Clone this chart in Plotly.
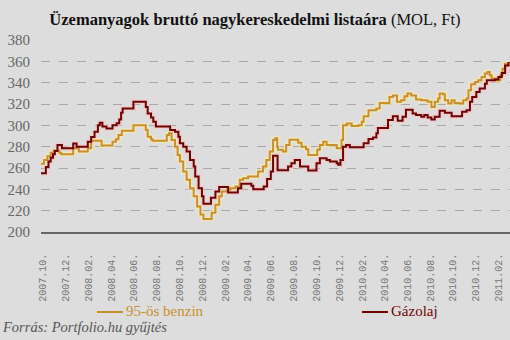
import plotly.graph_objects as go

benzin_dates = ["2007-09-26","2007-10-04","2007-10-13","2007-10-22","2007-10-30","2007-11-14","2007-11-19",
    "2007-12-21","2008-01-05","2008-01-29","2008-02-07","2008-03-06","2008-04-04","2008-04-13","2008-04-20",
    "2008-04-29","2008-05-30","2008-07-02","2008-07-07","2008-07-16","2008-07-20","2008-08-27","2008-09-02",
    "2008-09-09","2008-09-18","2008-09-25","2008-10-01","2008-10-10","2008-10-19","2008-10-28","2008-11-07",
    "2008-11-16","2008-11-25","2008-12-03","2008-12-25","2009-01-04","2009-01-14","2009-01-21","2009-02-04",
    "2009-02-13","2009-02-26","2009-03-10","2009-03-19","2009-04-01","2009-04-28","2009-05-11","2009-05-20",
    "2009-05-29","2009-06-07","2009-06-13","2009-06-18","2009-06-20","2009-07-03","2009-07-12","2009-07-21",
    "2009-08-13","2009-08-22","2009-09-03","2009-09-09","2009-10-03","2009-10-10","2009-10-19","2009-10-28",
    "2009-11-24","2009-12-07","2009-12-11","2009-12-21","2010-01-03","2010-01-21","2010-01-30","2010-02-04",
    "2010-02-17","2010-03-10","2010-03-19","2010-04-14","2010-04-23","2010-05-04","2010-05-15","2010-05-24",
    "2010-06-01","2010-06-11","2010-06-24","2010-07-08","2010-07-25","2010-08-04","2010-08-13","2010-08-22",
    "2010-08-26","2010-09-04","2010-09-09","2010-09-18","2010-09-27","2010-10-05","2010-10-19","2010-10-28",
    "2010-11-06","2010-11-11","2010-11-18","2010-11-29","2010-12-07","2010-12-16","2010-12-25","2011-01-01",
    "2011-01-07","2011-01-12","2011-01-25","2011-02-04","2011-02-10","2011-02-17","2011-02-26"]
benzin_values = [264,267.6,271,274.4,276.3,274.4,273,
    278.5,275.4,278.5,285.6,281,284.7,287,291,
    295,300,295.6,289.3,287,285.6,291,292.5,
    286.3,280,272.3,266,256.7,249,241,233.4,
    224,216.3,212.3,218,225.6,233.4,238,239.6,
    241,242.7,249,250.5,252,256.7,261.3,267.6,
    275.4,286.3,287.8,280,277,275.4,281.6,286.5,
    283.7,280,277.6,272.3,277,281.6,284.7,281.6,
    278.5,286.3,300,301.8,299.3,300,303.3,308.6,
    314.2,315.8,321,326.6,328,322,323.6,327.3,
    329.8,328,324.2,323.6,322,317.3,322,325.2,
    329.8,329.2,323.6,320.5,323.6,321,320.5,323.6,
    325.2,333,338.5,340.6,342.2,345.3,348.5,350,
    346.9,343.8,342.2,346.9,353,357.8,359.3]

gazolaj_dates = ["2007-09-26","2007-10-09","2007-10-16","2007-10-22","2007-10-28","2007-11-02","2007-11-09",
    "2007-11-21","2007-12-21","2007-12-30","2008-01-29","2008-02-07","2008-02-16","2008-02-25","2008-03-01",
    "2008-03-08","2008-03-19","2008-04-04","2008-04-15","2008-04-22","2008-04-27","2008-05-01","2008-05-30",
    "2008-07-02","2008-07-07","2008-07-16","2008-07-22","2008-07-29","2008-09-05","2008-09-18","2008-09-27",
    "2008-10-01","2008-10-10","2008-10-19","2008-10-28","2008-11-07","2008-11-11","2008-11-20","2008-11-29",
    "2008-12-03","2008-12-23","2009-01-04","2009-01-14","2009-02-07","2009-03-05","2009-03-14","2009-04-10",
    "2009-04-15","2009-05-13","2009-05-22","2009-06-01","2009-06-07","2009-06-19","2009-07-17","2009-07-26",
    "2009-08-04","2009-08-18","2009-09-09","2009-10-01","2009-10-10","2009-10-28","2009-11-06","2009-11-24",
    "2009-11-28","2009-12-04","2009-12-11","2009-12-19","2009-12-29","2010-02-04","2010-02-17","2010-03-01",
    "2010-03-10","2010-03-14","2010-04-10","2010-04-23","2010-05-06","2010-05-19","2010-05-28","2010-06-15",
    "2010-06-24","2010-07-08","2010-07-16","2010-07-25","2010-08-04","2010-08-13","2010-08-26","2010-09-09",
    "2010-09-27","2010-10-25","2010-11-06","2010-11-15","2010-11-21","2010-12-02","2010-12-11","2010-12-25",
    "2010-12-30","2011-01-21","2011-01-30","2011-02-08","2011-02-17","2011-02-26"]
gazolaj_values = [255,261,266,269.5,273,276,281.6,
    278.5,283,280,284.7,289,294,300,302.4,
    299,297,300,302,305.5,311.7,315.8,322,
    317.3,311,307.4,303.3,299,295.6,294,289.3,
    283.2,280,275.4,267.6,261.3,252,241,233.4,
    226.6,232,238,242.2,237,241,245.2,243.4,
    240,242.7,249.6,256.7,271.5,258,261.3,264.5,
    267.6,261.3,257.6,264.5,269.2,267.6,266,264.5,
    263,267.6,280,281.6,279.4,283.2,287.2,288.7,
    292.5,297.5,305,308.6,304.3,308,314.5,311.2,
    309.6,308,309.6,307.4,305.5,308,313.6,311.7,
    308.6,312.7,314.2,322,326.6,331.3,334.5,339.1,
    342.2,342.9,345.3,349,356.2,359.3]

y_ticks = [200, 220, 240, 260, 280, 300, 320, 340, 360, 380]
series_names = ["95-ös benzin", "Gázolaj"]

BENZIN = "#c8902a"
GAZOLAJ = "#6e0303"

W, H = 510, 340
ML, MR, MT, MB = 41, 0, 40, 108
PW, PH = W - ML - MR, H - MT - MB


def px(xp):
    return (xp - ML) / PW


def py(yp):
    return (H - MB - yp) / PH


fig = go.Figure()
fig.add_trace(go.Scatter(x=benzin_dates, y=benzin_values, mode="lines", line_shape="hv",
                         line=dict(color="rgba(255,235,170,0.55)", width=5), showlegend=False, hoverinfo="skip"))
fig.add_trace(go.Scatter(x=gazolaj_dates, y=gazolaj_values, mode="lines", line_shape="hv",
                         line=dict(color="rgba(255,190,190,0.45)", width=5), showlegend=False, hoverinfo="skip"))
fig.add_trace(go.Scatter(x=benzin_dates, y=benzin_values, mode="lines", line_shape="hv",
                         line=dict(color=BENZIN, width=2), name=series_names[0], showlegend=False))
fig.add_trace(go.Scatter(x=gazolaj_dates, y=gazolaj_values, mode="lines", line_shape="hv",
                         line=dict(color=GAZOLAJ, width=2), name=series_names[1], showlegend=False))

# legend drawn below the axis (line sample + coloured label)
legend_items = [(series_names[0], BENZIN, 97, 123), (series_names[1], GAZOLAJ, 362, 388)]
for name, col, x0, x1 in legend_items:
    fig.add_shape(type="line", xref="paper", yref="paper", x0=px(x0), x1=px(x1), y0=py(312), y1=py(312),
                  line=dict(color=col, width=2))
    fig.add_annotation(text=name, xref="paper", yref="paper", x=px(x1 + 1), y=py(311),
                       xanchor="left", yanchor="middle", showarrow=False,
                       font=dict(family="Liberation Serif", size=15, color=col))

fig.add_annotation(text="<i>Forrás: Portfolio.hu gyűjtés</i>", xref="paper", yref="paper",
                   x=px(0), y=py(327), xanchor="left", yanchor="middle", showarrow=False,
                   font=dict(family="Liberation Serif", size=14.5, color="#555"))

fig.update_layout(
    width=W, height=H,
    margin=dict(l=ML, r=MR, t=MT, b=MB),
    paper_bgcolor="#dddddd", plot_bgcolor="#dddddd",
    title=dict(text="<b>Üzemanyagok bruttó nagykereskedelmi listaára</b> (MOL, Ft)",
               x=0.5, xanchor="center", y=1 - 19 / 340, yanchor="middle", yref="container",
               font=dict(family="Liberation Serif", size=16.5, color="#111")),
    showlegend=False,
    font=dict(family="Liberation Serif"),
)
fig.update_xaxes(type="date", range=["2007-09-26", "2011-03-02"], tickformat="%Y.%m.",
                 dtick="M2", tick0="2007-10-01", tickangle=-90, automargin=False,
                 tickfont=dict(family="Liberation Mono", size=10, color="#777"),
                 showgrid=False, zeroline=False, showline=True, linecolor="#666", linewidth=1.5,
                 ticks="", ticklabelstandoff=16)
fig.update_yaxes(range=[200, 380], tickvals=y_ticks, showgrid=True, gridcolor="#a8a8a8",
                 griddash="dash", gridwidth=1, zeroline=False, showline=False, automargin=False,
                 tickfont=dict(family="Liberation Serif", size=15, color="#666"), ticks="",
                 ticklabelstandoff=10)

fig.write_html("out.html")
